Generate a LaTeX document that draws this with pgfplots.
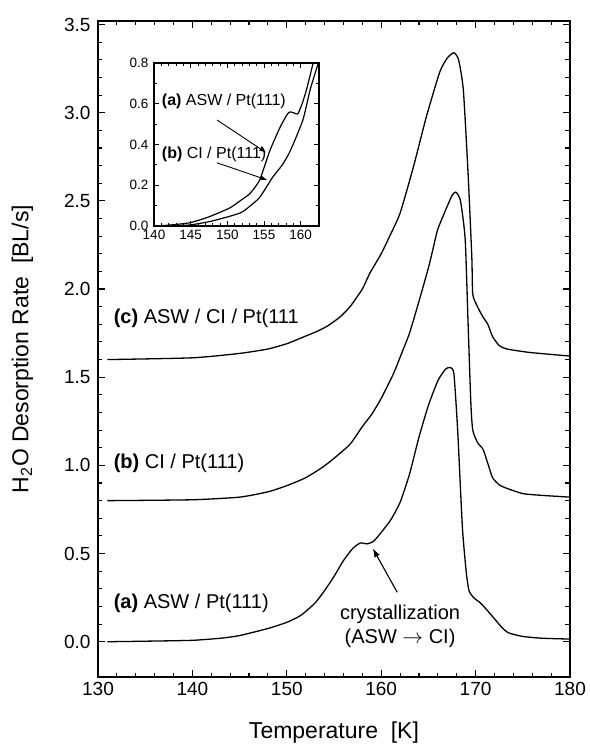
\documentclass[border=0pt]{standalone}
\usepackage{fontspec}
\setmainfont{Liberation Sans}
\usepackage{pgfplots}
\pgfplotsset{compat=1.18}
\usetikzlibrary{arrows.meta}

% TPD spectra
\pgfplotstableread{
T r
131 0.0
135 0.003
140 0.008
143 0.02
145 0.035
148 0.075
150 0.11
151.5 0.15
153 0.22
154 0.29
155 0.37
156 0.46
157 0.53
157.8 0.56
158.5 0.555
159.2 0.57
160 0.62
161 0.69
162 0.79
163 0.95
164 1.16
165 1.34
166 1.48
166.8 1.545
167.3 1.555
167.7 1.52
168.1 1.2
168.6 0.65
169.0 0.40
169.3 0.29
169.8 0.25
170.5 0.22
171.2 0.18
172 0.13
172.8 0.08
173.5 0.05
175 0.03
177 0.02
180 0.015
}\asw

\pgfplotstableread{
T r
131 0.80
140 0.805
145 0.82
148 0.85
150 0.885
152 0.93
153.8 0.99
155 1.04
156.7 1.12
158 1.22
159 1.29
160 1.38
161.3 1.52
162.2 1.64
163 1.75
164 1.93
165 2.12
165.5 2.23
166 2.34
167 2.47
167.5 2.53
167.9 2.55
168.4 2.50
168.9 2.28
169.2 1.81
169.5 1.35
169.7 1.20
170.2 1.13
170.8 1.09
171.3 1.01
171.8 0.93
172.5 0.89
173.3 0.87
175 0.84
177 0.83
180 0.82
}\ci

\pgfplotstableread{
T r
131 1.60
140 1.61
145 1.635
148 1.66
150 1.69
151.4 1.72
153.2 1.76
154.3 1.79
155.6 1.84
156.7 1.90
158 2.00
158.8 2.09
160 2.20
160.9 2.30
162 2.43
163.4 2.69
164.8 2.98
166.2 3.23
167 3.31
167.7 3.34
168.2 3.30
168.7 3.13
169.2 2.66
169.6 2.18
169.7 1.97
170.2 1.90
170.8 1.84
171.3 1.80
171.8 1.73
172.5 1.68
173.3 1.66
175.8 1.64
180 1.62
}\aswci

% inset, low-temperature region
\pgfplotstableread{
T r
140 0.0
142 0.004
144.9 0.016
147.5 0.045
150.3 0.088
152 0.13
153.1 0.16
154.4 0.225
155.8 0.37
157.2 0.485
158.2 0.55
158.6 0.56
159.1 0.555
159.6 0.55
160.2 0.60
160.8 0.67
161.7 0.80
162.3 0.90
}\aswin

\pgfplotstableread{
T r
140 0.0
142 0.002
144.9 0.005
148 0.025
151.7 0.063
153 0.095
154.4 0.14
156.2 0.24
157.5 0.30
158.6 0.37
160.3 0.52
161.3 0.67
162.4 0.80
163 0.88
}\ciin

\begin{document}
\begin{tikzpicture}
\begin{axis}[
    name=main,
    scale only axis,
    width=472pt, height=656pt,
    xmin=130, xmax=180,
    ymin=-0.2, ymax=3.52,
    xtick={130,140,150,160,170,180},
    ytick={0,0.5,1,1.5,2,2.5,3,3.5},
    minor x tick num=4,
    minor y tick num=4,
    tick align=inside,
    tick pos=both,
    major tick length=7pt,
    minor tick length=4.5pt,
    every tick/.append style={black, line width=1.1pt},
    axis line style={line width=1.6pt},
    ticklabel style={font=\fontsize{19}{22}\selectfont},
    yticklabel style={xshift=-4pt},
    xticklabel style={yshift=-2pt},
    /pgf/number format/assume math mode=true,
    yticklabel style={/pgf/number format/.cd, fixed, fixed zerofill, precision=1},
    xlabel={Temperature~~[K]},
    ylabel={H\textsubscript{2}O Desorption Rate~~[BL/s]},
    label style={font=\fontsize{23}{26}\selectfont},
    x label style={at={(axis description cs:0.5,-0.085)}, anchor=center},
    y label style={at={(axis description cs:-0.16,0.5)}, anchor=center},
]
\addplot[black, line width=1.3pt, line join=round, smooth, tension=0.35] table {\asw};
\addplot[black, line width=1.3pt, line join=round, smooth, tension=0.35] table {\ci};
\addplot[black, line width=1.3pt, line join=round, smooth, tension=0.35] table {\aswci};

\node[anchor=west, font=\fontsize{20}{23}\selectfont] at (axis cs:131.3,1.835) {\textbf{(c)} ASW / CI / Pt(111};
\node[anchor=west, font=\fontsize{20}{23}\selectfont] at (axis cs:131.3,1.01) {\textbf{(b)} CI / Pt(111)};
\node[anchor=west, font=\fontsize{20}{23}\selectfont] at (axis cs:131.3,0.215) {\textbf{(a)} ASW / Pt(111)};
\node[align=center, font=\fontsize{20}{24}\selectfont] at (axis cs:162,0.085) {crystallization\\(ASW $\rightarrow$ CI)};
\draw[-{Latex[length=9pt,width=6pt]}, line width=1.1pt] (axis cs:161.7,0.28) -- (axis cs:159.1,0.53);
\end{axis}

\begin{axis}[
    at={(main.north west)}, anchor=north west,
    xshift=56pt, yshift=-42pt,
    scale only axis,
    width=165pt, height=163pt,
    xmin=140, xmax=162.5,
    ymin=0, ymax=0.8,
    xtick={140,145,150,155,160},
    ytick={0,0.2,0.4,0.6,0.8},
    minor x tick num=4,
    minor y tick num=1,
    tick align=inside,
    tick pos=both,
    major tick length=5pt,
    minor tick length=3pt,
    every tick/.append style={black, line width=0.9pt},
    axis line style={line width=1.6pt},
    axis background/.style={fill=white},
    ticklabel style={font=\fontsize{13.5}{15}\selectfont},
    yticklabel style={xshift=-2pt},
    xticklabel style={yshift=-1pt},
    /pgf/number format/assume math mode=true,
    yticklabel style={/pgf/number format/.cd, fixed, fixed zerofill, precision=1},
]
\addplot[black, line width=1.2pt, line join=round, smooth, tension=0.35] table {\aswin};
\addplot[black, line width=1.2pt, line join=round, smooth, tension=0.35] table {\ciin};

\node[anchor=west, font=\fontsize{16}{18}\selectfont] at (axis cs:140.6,0.61) {\textbf{(a)} ASW / Pt(111)};
\node[anchor=west, font=\fontsize{16}{18}\selectfont] at (axis cs:140.6,0.35) {\textbf{(b)} CI / Pt(111)};
\draw[-{Latex[length=7pt,width=4.5pt]}, line width=0.9pt] (axis cs:148.6,0.52) -- (axis cs:155.3,0.36);
\draw[-{Latex[length=7pt,width=4.5pt]}, line width=0.9pt] (axis cs:148.6,0.31) -- (axis cs:155.5,0.225);
\end{axis}

\path ([xshift=-98pt,yshift=-70pt]main.south west) rectangle ([xshift=18pt,yshift=21pt]main.north east);
\end{tikzpicture}
\end{document}
